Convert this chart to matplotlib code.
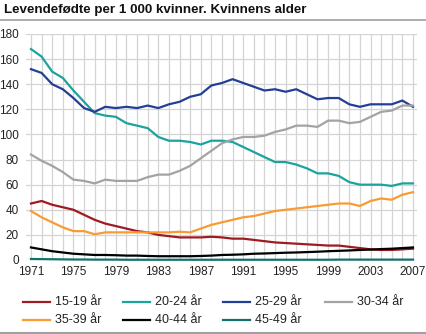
import matplotlib
matplotlib.use("Agg")
import matplotlib.pyplot as plt
from matplotlib.lines import Line2D
import numpy as np

years = list(range(1971, 2008))

s15_19 = [45, 47, 44, 42, 40, 36, 32, 29, 27, 25, 23, 22, 20, 19, 18, 18, 18, 18.5, 18, 17,
          17, 16, 15, 14, 13.5, 13, 12.5, 12, 11.5, 11.5, 10.5, 9.5, 8.5, 8, 8, 8.5, 9]
s20_24 = [168, 162, 150, 145, 135, 126, 117, 115, 114, 109, 107, 105, 98, 95, 95, 94, 92, 95, 95, 94,
          90, 86, 82, 78, 78, 76, 73, 69, 69, 67, 62, 60, 60, 60, 59, 61, 61]
s25_29 = [152, 149, 140, 136, 129, 121, 118, 122, 121, 122, 121, 123, 121, 124, 126, 130, 132, 139, 141, 144,
          141, 138, 135, 136, 134, 136, 132, 128, 129, 129, 124, 122, 124, 124, 124, 127, 122]
s30_34 = [84, 79, 75, 70, 64, 63, 61, 64, 63, 63, 63, 66, 68, 68, 71, 75, 81, 87, 93, 96,
          98, 98, 99, 102, 104, 107, 107, 106, 111, 111, 109, 110, 114, 118, 119, 123, 123]
s35_39 = [39, 34, 30, 26, 23, 23, 20.5, 22, 22, 22, 22, 22, 22, 22, 22.5, 22, 25, 28, 30, 32,
          34, 35, 37, 39, 40, 41, 42, 43, 44, 45, 45, 43, 47, 49, 48, 52, 54]
s40_44 = [10, 8.5, 7, 6, 5, 4.5, 4, 4, 3.8, 3.5, 3.5, 3.2, 3, 3, 3, 3, 3.2, 3.5, 4, 4.2,
          4.5, 5, 5.2, 5.5, 5.8, 6, 6.3, 6.6, 7, 7.3, 7.6, 8, 8.3, 8.7, 9, 9.5, 10]
s45_49 = [0.8, 0.7, 0.6, 0.5, 0.4, 0.4, 0.3, 0.3, 0.3, 0.2, 0.2, 0.2, 0.2, 0.2, 0.2, 0.2, 0.2, 0.2, 0.2, 0.2,
          0.2, 0.2, 0.2, 0.2, 0.2, 0.2, 0.2, 0.2, 0.2, 0.3, 0.3, 0.3, 0.3, 0.3, 0.3, 0.3, 0.3]

labels = ["15-19 år", "20-24 år", "25-29 år", "30-34 år", "35-39 år", "40-44 år", "45-49 år"]
series = [s15_19, s20_24, s25_29, s30_34, s35_39, s40_44, s45_49]
colors = ["#9e1b22", "#1ba39e", "#233f95", "#a3a3a3", "#f99b32", "#000000", "#13706b"]

yticks = [0, 20, 40, 60, 80, 100, 120, 140, 160, 180]
xticks = [1971, 1975, 1979, 1983, 1987, 1991, 1995, 1999, 2003, 2007]

plt.rcParams['font.family'] = ['Liberation Sans', 'DejaVu Sans']

W, H = 426, 334
fig = plt.figure(figsize=(W / 100, H / 100), dpi=100)
ax = fig.add_axes([26 / W, 74 / H, (417 - 26) / W, (260 - 34) / H])

for s, c in zip(series, colors):
    ax.plot(years, s, color=c, lw=1.6, solid_joinstyle='round', zorder=3, clip_on=False)

ax.set_xlim(1970.53, 2007.38)
ax.set_ylim(0, 180)
ax.set_yticks(yticks)
ax.set_xticks(xticks)
ax.set_xticks(years, minor=True)
ax.grid(True, which='both', axis='x', color='#d4d4d4', lw=0.9, zorder=0)
ax.grid(True, which='major', axis='y', color='#d4d4d4', lw=0.9, zorder=0)
for sp in ax.spines.values():
    sp.set_visible(False)
ax.tick_params(axis='both', which='both', length=0, labelsize=8.5, colors='#222222')
ax.tick_params(axis='y', pad=5)
ax.tick_params(axis='x', pad=4)

# Legend laid out row-wise, 4 entries per row
col_x = [23, 123, 223, 325]
row_y = [302, 320]
for i, (lab, c) in enumerate(zip(labels, colors)):
    r, k = divmod(i, 4)
    x0 = col_x[k]
    y0 = 1 - row_y[r] / H
    fig.add_artist(Line2D([x0 / W, (x0 + 27) / W], [y0, y0], color=c, lw=1.6))
    fig.text((x0 + 32) / W, y0, lab, fontsize=9, va='center', ha='left', color='#222222')

fig.text(4 / W, 1 - 10 / H, "Levendefødte per 1 000 kvinner. Kvinnens alder",
         fontsize=9.6, fontweight='bold', va='center', ha='left', color='#111111')
fig.add_artist(Line2D([0, 1], [1 - 20 / H, 1 - 20 / H], color='#a0a0a0', lw=1.2))
fig.add_artist(Line2D([0, 1], [1 - 333 / H, 1 - 333 / H], color='#a0a0a0', lw=1.5))

fig.savefig("out.png", dpi=100)
